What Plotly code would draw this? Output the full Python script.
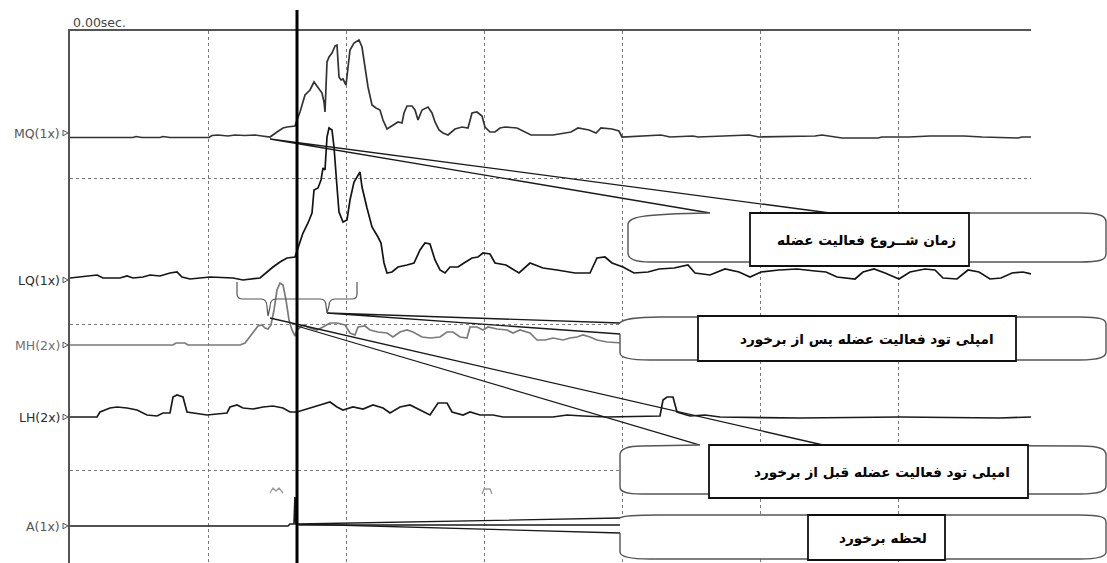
import plotly.graph_objects as go

# ---------------- DATA ----------------
# time axis in samples (one grid division = 138 samples); amplitudes are offsets above each channel baseline
channel_names = ["MQ(1x)", "LQ(1x)", "MH(2x)", "LH(2x)", "A(1x)"]
channel_baselines = [425, 285, 218, 146, 37]

mq_t = [0, 63, 66, 72, 90, 93, 100, 139, 142, 148, 158, 165, 175, 185, 192, 200, 207, 213, 217, 225,
        227, 230, 235, 240, 244, 248, 252, 254, 255, 257, 259, 262, 265, 267, 268, 269, 271, 273, 276, 278,
        280, 284, 289, 292, 295, 298, 302, 306, 310, 313, 317, 322, 328, 332, 334, 337, 342, 345, 348, 352,
        358, 362, 365, 369, 373, 378, 385, 392, 398, 402, 407, 412, 415, 420, 425, 430, 435, 447, 461, 483,
        501, 508, 519, 526, 531, 542, 549, 552, 591, 600, 623, 628, 668, 679, 689, 745, 752, 772, 808, 812,
        839, 860, 894, 912, 948, 952, 961]
mq_amp = [0.5, 0.5, 1.5, 0.5, 0.5, 1.5, 0.5, 0.5, 2.5, 3, 2, 3, 2.5, 3, 2, 1, 6, 10, 11, 12,
          18, 26, 43, 48, 56, 51, 45, 36, 26, 76, 81, 85, 92, 93, 81, 61, 58, 59, 53, 68,
          88, 95, 98, 91, 71, 51, 33, 30, 28, 18, 9, 12, 16, 15, 25, 32, 32, 28, 18, 28,
          31, 25, 16, 8, 5, 3, 9, 11, 10, 25, 26, 22, 11, 6, 6, 10, 11, 10, 3, 3,
          6, 10, 8, 5, 10, 9, 7, 1, 3, 1, 2, 1, 2, 3, 1, 2, 3, 0, 0, 1,
          1, 2, 2, 1, 0, 1, 1]

lq_t = [0, 10, 27, 33, 50, 57, 63, 73, 80, 90, 100, 107, 112, 120, 130, 140, 163, 173, 190, 197,
        203, 210, 217, 225, 227, 228, 233, 238, 242, 244, 248, 251, 253, 255, 257, 259, 262, 264, 267, 269,
        273, 277, 280, 284, 290, 292, 297, 302, 308, 311, 314, 317, 322, 328, 337, 344, 350, 355, 360, 365,
        370, 375, 380, 388, 394, 402, 408, 413, 420, 425, 436, 449, 460, 473, 487, 505, 520, 527, 535, 542,
        553, 564, 578, 589, 604, 618, 625, 640, 655, 669, 680, 691, 709, 727, 745, 756, 767, 785, 793, 804,
        815, 829, 840, 855, 865, 873, 887, 898, 909, 920, 931, 942, 953, 961]
lq_amp = [0, 1, 3, 0, 0, 2, 0, 1, 3, 2, 5, 6, 1, -1, 0, 1, 0, -2, 0, 6,
          11, 16, 20, 21, 26, 30, 45, 55, 65, 88, 90, 98, 110, 108, 141, 150, 148, 131, 91, 66,
          56, 58, 78, 96, 106, 91, 70, 51, 41, 35, 15, 5, 6, 11, 13, 15, 28, 35, 34, 18,
          8, 5, 11, 11, 15, 20, 21, 25, 24, 15, 13, 5, 15, 10, 8, 5, 5, 20, 21, 15,
          11, 5, 6, 9, 10, 13, 5, 3, 9, 6, 1, 6, 8, 9, 7, 6, 1, -1, 6, 9,
          5, -1, 6, 9, 8, 0, -1, 8, 6, -1, 0, 5, 6, 4]

mh_t = [0, 103, 106, 115, 118, 170, 175, 179, 183, 188, 192, 195, 198, 201, 204, 207, 210, 213, 216, 219,
        222, 225, 227, 233, 240, 247, 253, 260, 267, 275, 280, 285, 288, 295, 300, 308, 317, 323, 330, 337,
        343, 352, 360, 370, 377, 383, 390, 397, 400, 407, 413, 418, 427, 437, 443, 450, 460, 467, 475, 483,
        493, 500, 507, 513, 520, 527, 537, 548, 552, 630, 730, 961]
mh_amp = [0, 0, 2, 2, 0, 0, 2, 7, 12, 19, 20, 17, 16, 20, 35, 55, 62, 60, 45, 25,
          15, 9, 15, 20, 17, 15, 18, 22, 22, 20, 12, 10, 18, 19, 15, 13, 12, 8, 13, 15,
          13, 8, 7, 8, 13, 13, 8, 7, 18, 18, 15, 18, 16, 15, 12, 15, 12, 5, 5, 7,
          5, 7, 8, 10, 8, 5, 3, 2, 2, 3, 2, 3]

lh_t = [0, 27, 30, 40, 47, 57, 67, 77, 87, 93, 100, 103, 107, 113, 117, 123, 137, 147, 157, 160,
        167, 173, 183, 193, 203, 213, 220, 227, 240, 250, 260, 267, 273, 283, 293, 303, 313, 320, 330, 340,
        350, 360, 368, 377, 382, 393, 400, 410, 423, 433, 483, 497, 513, 537, 590, 593, 597, 603, 607, 620,
        635, 650, 730, 830, 930, 961]
lh_amp = [0, 0, 5, 9, 10, 9, 7, 2, 1, 4, 4, 20, 22, 20, 5, 4, 2, 3, 4, 10,
          12, 9, 8, 10, 11, 9, 5, 5, 9, 12, 15, 10, 7, 10, 8, 12, 9, 4, 10, 12,
          7, 2, 14, 14, 5, 2, 5, 2, 2, 0, 0, 2, 1, 0, 1, 17, 20, 20, 5, 1,
          2, 0, -1, 0, -1, 0]

a_t = [0, 218, 220, 224, 225, 226, 230, 961]
a_amp = [0, 0, 2, 2, 29, 2, 1, 1]

# faint artefact blips drawn above the A channel (None = gap)
art_t = [200, 203, 206, 209, 213, None, 412, 414, 420, 422]
art_amp = [33, 38, 35, 38, 33, None, 32, 37, 37, 32]

impact_t = 227          # moment of impact (thick vertical marker)
grid_x = [138, 276, 414, 552, 690, 828]
grid_y = [93, 239, 385]

callout_texts = [
    "زمان شــروع فعالیت عضله",
    "امپلی تود فعالیت عضله پس از برخورد",
    "امپلی تود فعالیت عضله قبل از برخورد",
    "لحظه برخورد",
]

trace_colors = ["#333333", "#141414", "#7a7a7a", "#1a1a1a", "#1a1a1a"]
label_colors = ["#555555", "#2a2a2a", "#707070", "#2a2a2a", "#555555"]
label_offsets = [5, -2, 0, 0, 0]   # label centre relative to baseline, px (positive = up)

# ---------------- FIGURE ----------------
W, H = 1107, 563
L, T = 70, 31
R_PX = 1031
fig = go.Figure()

series = [(mq_t, mq_amp), (lq_t, lq_amp), (mh_t, mh_amp), (lh_t, lh_amp), (a_t, a_amp)]
for (tt, aa), base, col in zip(series, channel_baselines, trace_colors):
    fig.add_trace(go.Scatter(x=tt, y=[base + v for v in aa], mode="lines",
                             line=dict(color=col, width=1.7), hoverinfo="skip"))

fig.add_trace(go.Scatter(x=art_t, y=[None if v is None else channel_baselines[4] + v for v in art_amp],
                         mode="lines", line=dict(color="#9a9a9a", width=1.3), hoverinfo="skip",
                         connectgaps=False))


def PX(px):
    return (px - L) / (R_PX - L)


def PY(py):
    return (H - py) / (H - T)


def path(cmds, close=False):
    out = []
    for c in cmds:
        op, pts = c[0], c[1:]
        out.append(op + " " + " ".join(f"{PX(x):.5f},{PY(y):.5f}" for x, y in pts))
    s = " ".join(out)
    return s + (" Z" if close else "")


annotations = []
shapes = []
for name, base, col, off in zip(channel_names, channel_baselines, label_colors, label_offsets):
    py = H - base - off
    annotations.append(dict(x=PX(61.5), y=PY(py), xref="paper", yref="paper", text=name, showarrow=False,
                            xanchor="right", yanchor="middle",
                            font=dict(family="DejaVu Sans", size=12.5, color=col)))
    shapes.append(dict(type="path", xref="paper", yref="paper",
                       path=path([("M", (63, py - 2.8)), ("L", (68, py)), ("L", (63, py + 2.8))], close=True),
                       line=dict(color="#555", width=1), fillcolor="rgba(0,0,0,0)"))
annotations.append(dict(x=PX(71), y=PY(23), xref="paper", yref="paper", text="0.00sec.", showarrow=False,
                        xanchor="left", yanchor="middle",
                        font=dict(family="DejaVu Sans", size=12.5, color="#444")))

LINE = "#1a1a1a"
BUB = "#555555"

# wedges (leader lines)
wedges = [
    [("M", (710, 213)), ("L", (270, 139)), ("L", (830, 213))],
    [("M", (620, 323)), ("L", (327, 313)), ("L", (620, 334))],
    [("M", (823, 445)), ("L", (270, 318))],
    [("M", (700, 445)), ("L", (297, 326))],
    [("M", (620, 518)), ("L", (297, 524)), ("L", (620, 533))],
]
for w in wedges:
    shapes.append(dict(type="path", xref="paper", yref="paper", path=path(w),
                       line=dict(color=LINE, width=1.3), fillcolor="rgba(0,0,0,0)"))

bubbles = [
    [("M", (830, 213)), ("L", (1080, 213)), ("C", (1100, 213), (1106, 216), (1106, 222)),
     ("L", (1106, 254)), ("C", (1106, 260), (1100, 262), (1080, 262)), ("L", (650, 262)),
     ("C", (634, 262), (628, 259), (628, 253)), ("L", (628, 225)),
     ("C", (628, 217), (640, 214), (710, 213))],
    [("M", (620, 334)), ("L", (620, 353)), ("C", (620, 358), (630, 360), (650, 360)),
     ("L", (1080, 360)), ("C", (1100, 360), (1106, 357), (1106, 352)), ("L", (1106, 324)),
     ("C", (1106, 319), (1100, 317), (1080, 317)), ("L", (660, 317)),
     ("C", (635, 317), (622, 320), (620, 323))],
    [("M", (823, 445)), ("L", (1080, 446)), ("C", (1100, 446), (1106, 449), (1106, 455)),
     ("L", (1106, 486)), ("C", (1106, 491), (1100, 494), (1080, 494)), ("L", (642, 494)),
     ("C", (626, 494), (620, 492), (620, 487)), ("L", (620, 455)),
     ("C", (620, 449), (626, 446), (642, 446)), ("L", (700, 445))],
    [("M", (620, 533)), ("L", (620, 552)), ("C", (620, 557), (630, 559), (650, 559)),
     ("L", (1080, 559)), ("C", (1100, 559), (1106, 556), (1106, 552)), ("L", (1106, 522)),
     ("C", (1106, 517), (1100, 515), (1080, 515)), ("L", (660, 515)),
     ("C", (635, 515), (622, 516), (620, 518))],
]
for b in bubbles:
    shapes.append(dict(type="path", xref="paper", yref="paper", path=path(b, close=True),
                       line=dict(width=0), fillcolor="white"))
    shapes.append(dict(type="path", xref="paper", yref="paper", path=path(b),
                       line=dict(color=BUB, width=1.4), fillcolor="rgba(0,0,0,0)"))

boxes = [(750, 213, 969, 266), (698, 316, 1016, 361), (709, 445, 1028, 498), (808, 515, 945, 560)]
text_centers = [(866, 240), (867, 339), (882, 472), (883, 538)]
for (x0, y0, x1, y1), txt, (cx, cy) in zip(boxes, callout_texts, text_centers):
    shapes.append(dict(type="rect", xref="paper", yref="paper", x0=PX(x0), x1=PX(x1), y0=PY(y1), y1=PY(y0),
                       line=dict(color="#111", width=1.8), fillcolor="white"))
    annotations.append(dict(x=PX(cx), y=PY(cy), xref="paper", yref="paper", text="<b>" + txt + "</b>",
                            showarrow=False, xanchor="center", yanchor="middle",
                            font=dict(family="DejaVu Sans", size=13.6, color="#000")))

# curly brackets on the MH channel
bracket = [("M", (237, 282)), ("L", (237, 294)), ("C", (237, 298), (239, 299), (243, 299)),
           ("L", (261, 299)), ("C", (265, 299), (267, 302), (267, 307)), ("L", (268, 316)),
           ("L", (270, 307)), ("C", (270, 302), (272, 299), (276, 299)), ("L", (297, 299)),
           ("L", (320, 299)), ("C", (324, 299), (326, 302), (326, 306)), ("L", (327, 313)),
           ("L", (329, 306)), ("C", (329, 302), (331, 299), (335, 299)), ("L", (352, 299)),
           ("C", (356, 299), (357, 297), (357, 294)), ("L", (357, 282))]
shapes.append(dict(type="path", xref="paper", yref="paper", path=path(bracket),
                   line=dict(color="#555", width=1.2), fillcolor="rgba(0,0,0,0)"))

# impact marker
shapes.append(dict(type="line", xref="x", yref="paper", x0=impact_t, x1=impact_t, y0=0,
                   y1=(H - 10) / (H - T), line=dict(color="#000", width=3)))

fig.update_layout(
    width=W, height=H,
    margin=dict(l=L, r=W - R_PX, t=T, b=0, pad=0),
    paper_bgcolor="white", plot_bgcolor="white",
    showlegend=False,
    shapes=shapes, annotations=annotations,
    xaxis=dict(range=[0, R_PX - L], side="top", showline=True, linecolor="#555", linewidth=1.5,
               tickvals=grid_x, showticklabels=False, ticks="", showgrid=True,
               gridcolor="#7a7a7a", griddash="dot", gridwidth=1, zeroline=False, fixedrange=True),
    yaxis=dict(range=[0, H - T], showline=True, linecolor="#555", linewidth=1.5,
               tickvals=grid_y, showticklabels=False, ticks="", showgrid=True,
               gridcolor="#7a7a7a", griddash="dot", gridwidth=1, zeroline=False, fixedrange=True),
)

fig.write_html("out.html", config={"displayModeBar": False},
               post_script="document.body.style.margin='0';document.body.style.overflow='hidden';")
